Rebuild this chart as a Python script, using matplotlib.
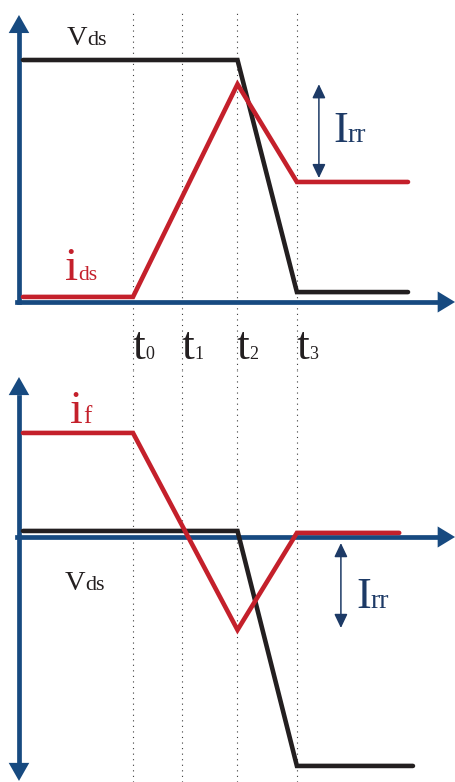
import matplotlib
matplotlib.use("Agg")
import matplotlib.pyplot as plt

plt.rcParams['font.family'] = ['Liberation Serif', 'DejaVu Serif']

# switching instants
t_marks = [2.0, 2.9, 3.9, 4.98]
t_names = ["0", "1", "2", "3"]

# upper panel: MOSFET drain-source voltage and current
top_vds_t = [0.0, 3.9, 4.98, 7.0]
top_vds_v = [10.0, 10.0, 0.41, 0.41]
top_ids_t = [0.0, 2.0, 3.9, 4.98, 7.0]
top_ids_v = [0.21, 0.21, 9.0, 4.96, 4.96]
top_irr = [9.0, 5.12]

# lower panel: diode current and voltage
bot_vds_t = [0.0, 3.9, 4.98, 7.09]
bot_vds_v = [0.25, 0.25, -9.46, -9.46]
bot_if_t = [0.0, 2.0, 3.9, 4.98, 6.84]
bot_if_v = [4.30, 4.30, -3.84, 0.17, 0.17]
bot_irr = [-0.25, -3.76]

BLUE = "#174a80"
RED = "#c4202b"
BLACK = "#231f20"
NAVY = "#1d3a66"
DOT = "#3a3a3a"

W, H = 456, 782
fig = plt.figure(figsize=(W / 100, H / 100), dpi=100)

XLIM = (-23 / 55, 433 / 55)
ax_top = fig.add_axes([0, 412 / 782, 1, 370 / 782])
ax_bot = fig.add_axes([0, 0, 1, 412 / 782])
ax_top.set_xlim(*XLIM)
ax_bot.set_xlim(*XLIM)
ax_top.set_ylim(-68 / 24.2, 302 / 24.2)
ax_bot.set_ylim(-245 / 24.2, 167 / 24.2)
for ax in (ax_top, ax_bot):
    ax.set_axis_off()
    ax.patch.set_alpha(0)

# dotted time markers running through both panels
ax_top.vlines(t_marks, ax_top.get_ylim()[0], 11.94, colors=DOT, lw=0.8,
              linestyles=(0, (1, 4)), zorder=1)
ax_bot.vlines(t_marks, ax_bot.get_ylim()[0], ax_bot.get_ylim()[1], colors=DOT,
              lw=0.8, linestyles=(0, (1, 4)), zorder=1)

AXLW = 3.4


def head(ax, tail, tip, hl, hw, color):
    ax.annotate("", xy=tip, xytext=tail,
                arrowprops=dict(arrowstyle=f"-|>,head_length={hl},head_width={hw}",
                                mutation_scale=1, lw=0, fc=color, ec="none",
                                shrinkA=0, shrinkB=0), zorder=3)


# axes with arrow heads
ax_top.plot([-0.073, -0.073], [0.0, 11.3], color=BLUE, lw=AXLW,
            solid_capstyle="projecting", zorder=3)
head(ax_top, (-0.073, 10.0), (-0.073, 11.86), 13, 7.4, BLUE)
ax_top.plot([-0.11, 7.6], [0, 0], color=BLUE, lw=AXLW,
            solid_capstyle="projecting", zorder=3)
head(ax_top, (7.3, 0), (7.855, 0), 12.5, 7.6, BLUE)

ax_bot.plot([-0.073, -0.073], [-9.3, 5.8], color=BLUE, lw=AXLW, zorder=3)
head(ax_bot, (-0.073, 5.0), (-0.073, 6.61), 13, 7.4, BLUE)
head(ax_bot, (-0.073, -9.0), (-0.073, -10.08), 13, 7.4, BLUE)
ax_bot.plot([-0.11, 7.6], [0, 0], color=BLUE, lw=AXLW, zorder=3)
head(ax_bot, (7.3, 0), (7.855, 0), 12.5, 7.6, BLUE)

# waveforms
LW = 3.3
ax_top.plot(top_vds_t, top_vds_v, color=BLACK, lw=LW, solid_capstyle="round",
            solid_joinstyle="miter", zorder=4)
ax_top.plot(top_ids_t, top_ids_v, color=RED, lw=LW, solid_capstyle="round",
            solid_joinstyle="miter", zorder=5)
ax_bot.plot(bot_vds_t, bot_vds_v, color=BLACK, lw=LW, solid_capstyle="round",
            solid_joinstyle="miter", zorder=4)
ax_bot.plot(bot_if_t, bot_if_v, color=RED, lw=LW, solid_capstyle="round",
            solid_joinstyle="miter", zorder=5)

# reverse recovery current spans
for ax, x, (y0, y1) in ((ax_top, 5.38, top_irr), (ax_bot, 5.78, bot_irr)):
    ax.annotate("", xy=(x, y1), xytext=(x, y0),
                arrowprops=dict(arrowstyle="<|-|>,head_length=8.4,head_width=4.0",
                                mutation_scale=1, lw=1.1, color=NAVY,
                                shrinkA=0, shrinkB=0), zorder=6)


def label(ax, x, y, main, sub, color, size, subsize, dx=0, dy=0):
    t = ax.text(x, y, main, color=color, fontsize=size, ha="left",
                va="baseline", zorder=7)
    ax.annotate(sub, xy=(1, y), xycoords=(t, "data"), xytext=(dx, dy),
                textcoords="offset points", color=color, fontsize=subsize,
                ha="left", va="baseline", zorder=7)


# names of the waveforms
label(ax_top, (67 - 23) / 55, (302 - 45) / 24.2, "V", "ds", BLACK, 20.5, 16)
label(ax_top, (65 - 23) / 55, (302 - 280) / 24.2, "i", "ds", RED, 34, 15.5)
label(ax_top, (333 - 23) / 55, (302 - 142) / 24.2, "I", "rr", NAVY, 32, 20)
label(ax_bot, (70 - 23) / 55, (537 - 423) / 24.2, "i", "f", RED, 33, 18)
label(ax_bot, (65 - 23) / 55, (537 - 590) / 24.2, "V", "ds", BLACK, 20.5, 16)
label(ax_bot, (356 - 23) / 55, (537 - 608) / 24.2, "I", "rr", NAVY, 32, 20)

# time instant labels under the upper panel
for tm, nm in zip(t_marks, t_names):
    label(ax_top, tm - 0.01, (302 - 359) / 24.2, "t", nm, BLACK, 33, 13)

fig.savefig("out.png", dpi=100)
